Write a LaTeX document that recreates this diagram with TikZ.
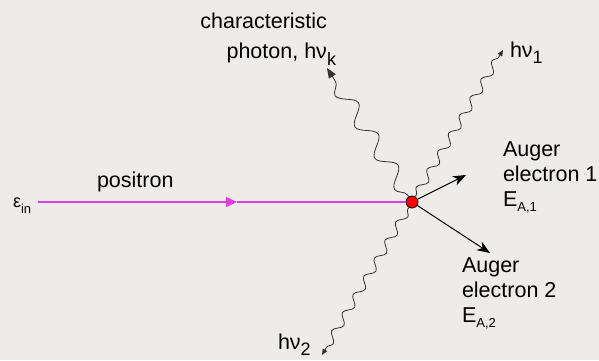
\documentclass[tikz,border=0pt]{standalone}
\usepackage{fontspec}
\setmainfont{Liberation Sans}
\usetikzlibrary{decorations.pathmorphing,arrows.meta}
\definecolor{bg}{RGB}{238,236,232}
\definecolor{posc}{RGB}{222,62,222}
\newcommand{\lowsub}[3]{\raisebox{-#1pt}{\fontsize{#2}{#2}\selectfont #3}}
\begin{document}
\begin{tikzpicture}[x=1pt,y=-1pt,
  font=\fontsize{21.5}{25}\selectfont,
  lbl/.style={inner sep=0pt, outer sep=0pt},
  wavy/.style={draw=black!80, line width=0.8pt, decorate,
    decoration={snake, segment length=21pt, amplitude=4pt, pre length=2pt, post length=6pt},
    -{Triangle[length=6pt,width=5pt]}},
  bigwavy/.style={draw=black!80, line width=0.8pt, decorate,
    decoration={snake, segment length=37pt, amplitude=8pt, pre length=2pt, post length=6pt},
    -{Triangle[length=10pt,width=8pt]}},
  electron/.style={draw=black, line width=1pt, -{Stealth[length=13pt,width=10pt,inset=4pt]}},
]
\fill[bg] (0,0) rectangle (599,360);
\useasboundingbox (0,0) rectangle (599,360);

\node[circle, fill=red, draw=black, line width=0.8pt, minimum size=12pt, inner sep=0pt] (dot) at (412,202) {};

\coordinate (pstart) at (38,202);
\coordinate (pmid) at (237,202);
\coordinate (ktip) at (327,68);
\coordinate (h1tip) at (503,50);
\coordinate (h2tip) at (322,355);
\coordinate (a1tip) at (466,175);
\coordinate (a2tip) at (490,253);

% positron
\draw[posc, line width=1.5pt, -{Triangle[length=11pt,width=10pt]}] (pstart) -- (pmid);
\draw[posc, line width=1.5pt] (pmid) -- (dot.west);

% photons
\draw[bigwavy] (dot) -- (ktip);
\draw[wavy] (dot) -- (h1tip);
\draw[wavy] (dot) -- (h2tip);

% Auger electrons
\draw[electron] (dot) -- (a1tip);
\draw[electron] (dot) -- (a2tip);

% labels
\node[lbl, anchor=base west] (eps) at (13,207) {\fontsize{18}{18}\selectfont ε\lowsub{6}{13}{in}};
\node[lbl, anchor=base west] (positron) at (97,187) {positron};
\node[lbl, anchor=north east, align=right] (charph) at (327,12.6) {characteristic\\[5pt]photon, hν\rlap{\lowsub{7}{18}{k}}};
\node[lbl, anchor=base west] (hv1) at (510,57) {hν\lowsub{6}{18}{1}};
\node[lbl, anchor=base west] (hv2) at (278,349) {hν\lowsub{6}{18}{2}};
\node[lbl, anchor=north west, align=left] (aug1) at (503,141.6) {Auger\\electron 1\\E\lowsub{5}{13}{A,1}};
\node[lbl, anchor=north west, align=left] (aug2) at (462,257.6) {Auger\\electron 2\\E\lowsub{5}{13}{A,2}};
\end{tikzpicture}
\end{document}
